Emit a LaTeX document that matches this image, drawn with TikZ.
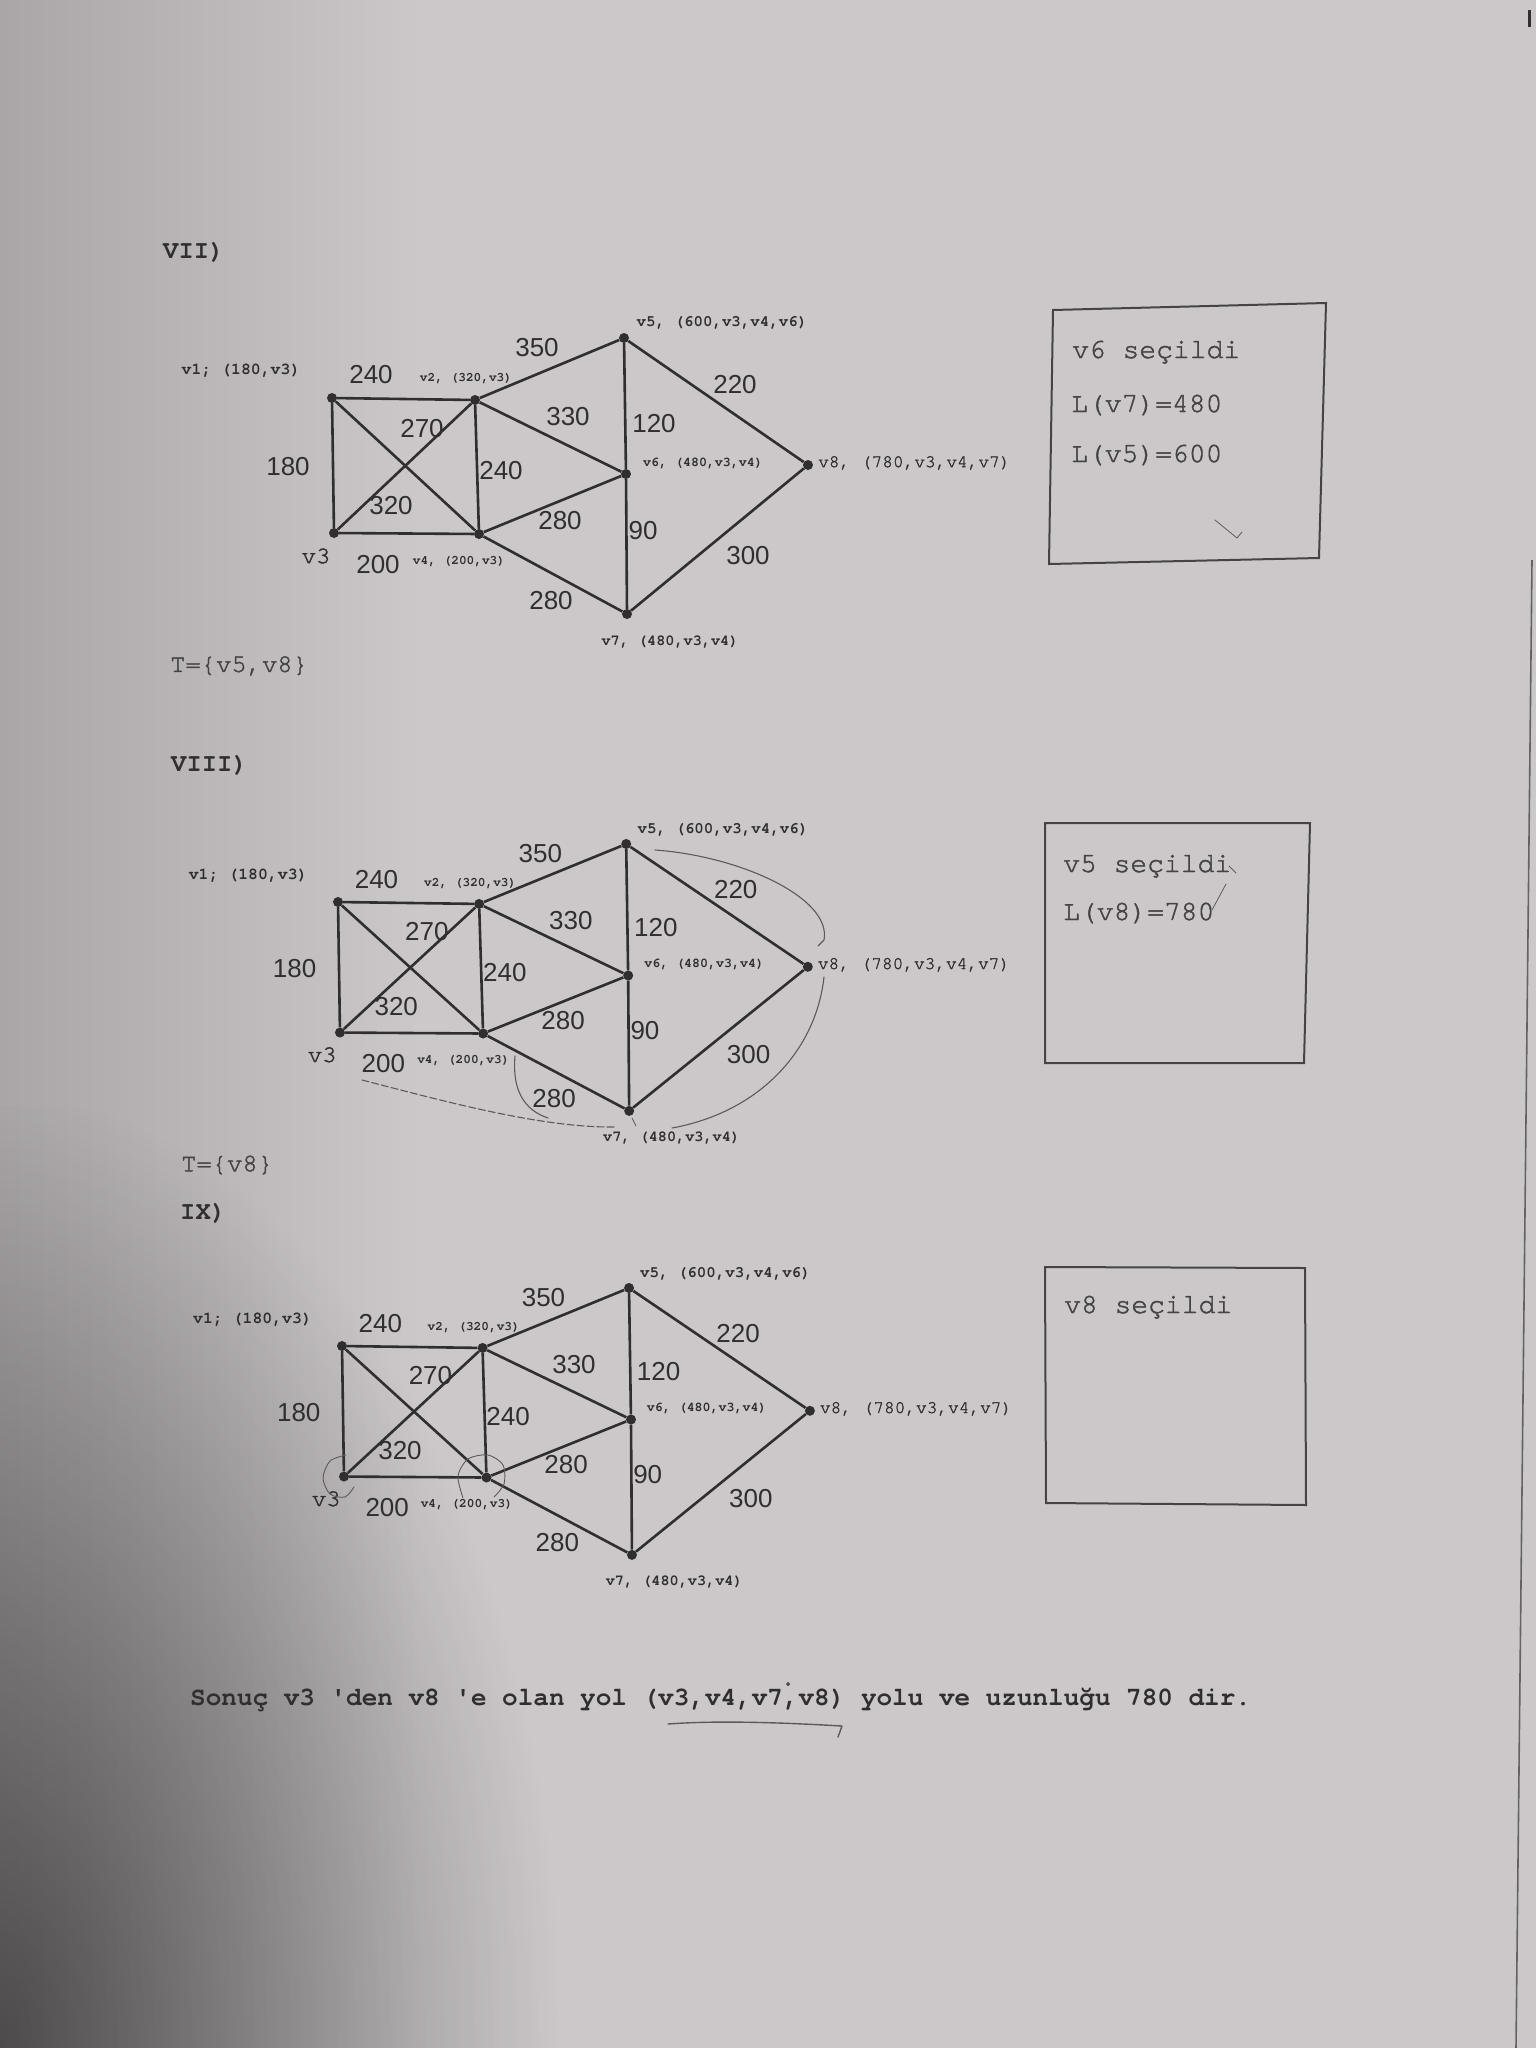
\documentclass[tikz,border=0pt]{standalone}
\usepackage{fontspec}
\setmainfont{DejaVu Sans}
\newfontfamily\monof{texgyrecursor}[
  Extension=.otf,
  UprightFont=*-regular,
  BoldFont=*-bold]
\newfontfamily\monomed{texgyrecursor-regular.otf}[FakeBold=1.6]
\newfontfamily\numf{Liberation Sans}
\usetikzlibrary{fadings}

\definecolor{paper}{RGB}{204,200,202}
\definecolor{paperdark}{RGB}{170,166,168}
\definecolor{ink}{RGB}{48,46,48}
\definecolor{pencil}{RGB}{92,89,92}

\tikzfading[name=fadecirc, inner color=transparent!0, outer color=transparent!100]

% one weighted graph: eight vertices, fourteen edges, their weights and labels
\newcommand\graphbody{%
  \node[vertex] (v1) at (0,0) {};
  \node[vertex] (v2) at (143,2) {};
  \node[vertex] (v3) at (2,135) {};
  \node[vertex] (v4) at (147,136) {};
  \node[vertex] (v5) at (292,-60) {};
  \node[vertex] (v6) at (294,76) {};
  \node[vertex] (v7) at (295,216) {};
  \node[vertex] (v8) at (476,67) {};
  \draw[edge] (v1) -- (v2);
  \draw[edge] (v1) -- (v3);
  \draw[edge] (v1) -- (v4);
  \draw[edge] (v2) -- (v3);
  \draw[edge] (v2) -- (v4);
  \draw[edge] (v3) -- (v4);
  \draw[edge] (v2) -- (v5);
  \draw[edge] (v2) -- (v6);
  \draw[edge] (v4) -- (v6);
  \draw[edge] (v4) -- (v7);
  \draw[edge] (v5) -- (v6);
  \draw[edge] (v6) -- (v7);
  \draw[edge] (v5) -- (v8);
  \draw[edge] (v7) -- (v8);
  % vertex labels
  \node[vlab, font=\monof\bfseries\fontsize{16.5}{16.5}\selectfont] (l1) at (-91,-27) {v1; (180,v3)};
  \node[vlab] (l2) at (134,-19) {v2, (320,v3)};
  \node[vlab, font=\monof\bfseries\fontsize{15.8}{15.8}\selectfont] (l5) at (390,-75) {v5, (600,v3,v4,v6)};
  \node[vlab, font=\monof\bfseries\fontsize{13.3}{13.3}\selectfont] (l6) at (371,65) {v6, (480,v3,v4)};
  \node[vlab, anchor=west, font=\monomed\fontsize{17.8}{17.8}\selectfont] (l8) at (486,65) {v8, (780,v3,v4,v7)};
  \node[vlab, font=\monomed\fontsize{24}{24}\selectfont] (l3) at (-16,158) {v3};
  \node[vlab] (l4) at (127,164) {v4, (200,v3)};
  \node[vlab, font=\monof\bfseries\fontsize{15.2}{15.2}\selectfont] (l7) at (338,244) {v7, (480,v3,v4)};
  % edge weights
  \node[wlab] (wa) at (39,-23) {240};
  \node[wlab] (wb) at (205,-50) {350};
  \node[wlab] (wc) at (403,-13) {220};
  \node[wlab] (wd) at (236,19) {330};
  \node[wlab] (we) at (322,26) {120};
  \node[wlab] (wf) at (90,31) {270};
  \node[wlab] (wg) at (-44,69) {180};
  \node[wlab] (wh) at (169,73) {240};
  \node[wlab] (wi) at (59,108) {320};
  \node[wlab] (wj) at (228,123) {280};
  \node[wlab] (wk) at (311,133) {90};
  \node[wlab] (wl) at (416,158) {300};
  \node[wlab] (wm) at (46,167) {200};
  \node[wlab] (wn) at (219,203) {280};
}

\begin{document}
\begin{tikzpicture}[x=1pt,y=-1pt,
  vertex/.style={circle, fill=ink, inner sep=0pt, minimum size=10pt},
  edge/.style={draw=ink, line width=2.6pt},
  vlab/.style={inner sep=0pt, text=ink, font=\monof\bfseries\fontsize{12.8}{12.8}\selectfont},
  wlab/.style={inner sep=0pt, text=ink, font=\numf\fontsize{26}{26}\selectfont},
  hdr/.style={inner sep=0pt, anchor=west, text=ink, font=\monof\bfseries\fontsize{25.5}{25.5}\selectfont},
  tset/.style={inner sep=0pt, anchor=west, text=ink!90, font=\monomed\fontsize{25.5}{25.5}\selectfont},
  boxtxt/.style={inner sep=0pt, anchor=base west, text=ink!90, font=\monomed\fontsize{28}{28}\selectfont},
  panel/.style={draw=ink!90, line width=2pt},
  pencil/.style={draw=pencil, line width=1.1pt, line cap=round, line join=round}]

\useasboundingbox (0,0) rectangle (1536,2048);
% paper, slightly darker towards the left and much darker in the lower left corner
\fill[paper] (0,0) rectangle (1536,2048);
\shade[left color=paperdark, right color=paper] (0,0) rectangle (420,2048);
\fill[black, opacity=0.55, path fading=fadecirc] (-560,1100) rectangle (560,2996);
% edge of the sheet on the right
\draw[ink!75, line width=1.6pt] (1532,560) -- (1516,2048);
\draw[ink, line width=3pt] (1529,10) -- (1529,27);

% ---------------- step VII ----------------
\node[hdr] (h7) at (163,252) {VII)};
\begin{scope}[shift={(332,398)}, name prefix=g7-]
  \graphbody
\end{scope}
\node[tset] (t7) at (170,666) {T=\{v5,v8\}};
\draw[panel] (1053,310) -- (1326,303) -- (1319,558) -- (1049,564) -- cycle;
\node[boxtxt] (b7a) at (1072,358) {v6 seçildi};
\node[boxtxt] (b7b) at (1071,412) {L(v7)=480};
\node[boxtxt] (b7c) at (1071,462) {L(v5)=600};
\draw[pencil, line width=0.8pt] (1215,520) -- (1237,538) -- (1242,532);

% ---------------- step VIII ----------------
\node[hdr] (h8) at (171,765) {VIII)};
\begin{scope}[shift={(338,902)}, xscale=0.987, yscale=0.967, name prefix=g8-]
  \graphbody
\end{scope}
\node[tset] (t8) at (181,1165) {T=\{v8\}};
\draw[panel] (1045,823) -- (1310,823) -- (1304,1063) -- (1045,1063) -- cycle;
\node[boxtxt] (b8a) at (1063,872) {v5 seçildi};
\node[boxtxt] (b8b) at (1063,920) {L(v8)=780};
\draw[pencil, line width=0.8pt] (1229,866) -- (1236,873);
\draw[pencil, line width=0.8pt] (1226,884) -- (1212,910);
% pencil traces of the chosen route
\draw[pencil] (655,850) .. controls (740,856) and (832,898) .. (824,940) -- (818,946);
\draw[pencil] (824,977) .. controls (816,1050) and (760,1112) .. (672,1128);
\draw[pencil] (515,1056) .. controls (512,1090) and (524,1110) .. (548,1118);
\draw[pencil, dash pattern=on 7pt off 3pt] (362,1080) .. controls (440,1100) and (540,1128) .. (615,1127);
\draw[pencil, line width=0.8pt] (632,1118) -- (636,1126);

% ---------------- step IX ----------------
\node[hdr] (h9) at (180,1213) {IX)};
\begin{scope}[shift={(342,1346)}, xscale=0.983, yscale=0.967, name prefix=g9-]
  \graphbody
\end{scope}
\draw[panel] (1045,1267) -- (1305,1268) -- (1306,1505) -- (1046,1503) -- cycle;
\node[boxtxt] (b9a) at (1064,1313) {v8 seçildi};
% pencil rings round v3 and v4
\draw[pencil, line width=0.9pt] plot[smooth] coordinates {(346,1455) (330,1461) (323,1478) (330,1494) (345,1497) (354,1487)};
\draw[pencil, line width=0.9pt] plot[smooth] coordinates {(463,1498) (458,1476) (468,1459) (488,1455) (503,1465) (504,1484) (494,1497)};

% ---------------- result ----------------
\node[inner sep=0pt, anchor=west, text=ink, font=\monof\bfseries\fontsize{26}{26}\selectfont] (res) at (190,1700)
  {Sonuç v3 'den v8 'e olan yol (v3,v4,v7,v8) yolu ve uzunluğu 780 dir.};
\draw[pencil, line width=1.4pt] (668,1724) .. controls (720,1720) and (790,1723) .. (842,1726) -- (838,1737);
\fill[pencil] (788,1684) circle (1.5);
\end{tikzpicture}
\end{document}
